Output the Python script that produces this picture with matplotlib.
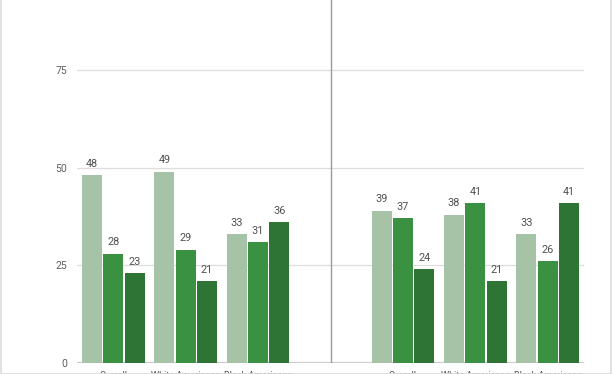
import numpy as np
import matplotlib.pyplot as plt
from matplotlib.patches import Rectangle

plt.rcParams['font.family'] = ['Roboto', 'DejaVu Sans']

# groups: left panel (0-2), blank divider slot (3), right panel (4-6)
categories = ['Overall', 'White Americans', 'Black Americans',
              '', 'Overall', 'White Americans', 'Black Americans']
positions = [0, 1, 2, 4, 5, 6]
series_light = [48, 49, 33, 39, 38, 33]
series_mid = [28, 29, 31, 37, 41, 26]
series_dark = [23, 21, 36, 24, 21, 41]
colors = ['#a6c3a7', '#3a9142', '#2e7434']

fig = plt.figure(figsize=(6.12, 3.74), dpi=100)
ax = fig.add_axes([77 / 612, 11 / 374, 507 / 612, 363 / 374])

x = np.array(positions)
w = 0.276
step = 0.294
for i, (vals, c) in enumerate(zip([series_light, series_mid, series_dark], colors)):
    xs = x + (i - 1) * step
    ax.bar(xs, vals, width=w, color=c, zorder=3)
    for xi, v in zip(xs, vals):
        ax.text(xi, v + 1.6, str(v), ha='center', va='bottom',
                fontsize=7.8, color='#505050', zorder=4)

ax.set_xlim(-0.5, 6.5)
ax.set_ylim(0, 92.9)
ax.set_yticks([0, 25, 50, 75])
ax.yaxis.grid(True, color='#dddddd', linewidth=0.9, zorder=0)
ax.axhline(0, color='#cccccc', linewidth=1.6, zorder=2)
ax.axvline(3, ymin=0, ymax=1, color='#9a9a9a', linewidth=1.0, zorder=2)

ax.set_xticks(range(len(categories)))
ax.set_xticklabels(categories, fontsize=6.6, color='#4d4d4d')
ax.tick_params(axis='x', length=0, pad=5.5)
ax.tick_params(axis='y', length=0, pad=7, labelsize=7.6, labelcolor='#5f5f5f')
for s in ax.spines.values():
    s.set_visible(False)

# thin border round the crop
fig.patches.append(Rectangle((0.5 / 612, 0), 610.5 / 612, 1.2, transform=fig.transFigure,
                             fill=False, edgecolor='#dddddd', linewidth=1.2))

fig.savefig('out.png', dpi=100)
